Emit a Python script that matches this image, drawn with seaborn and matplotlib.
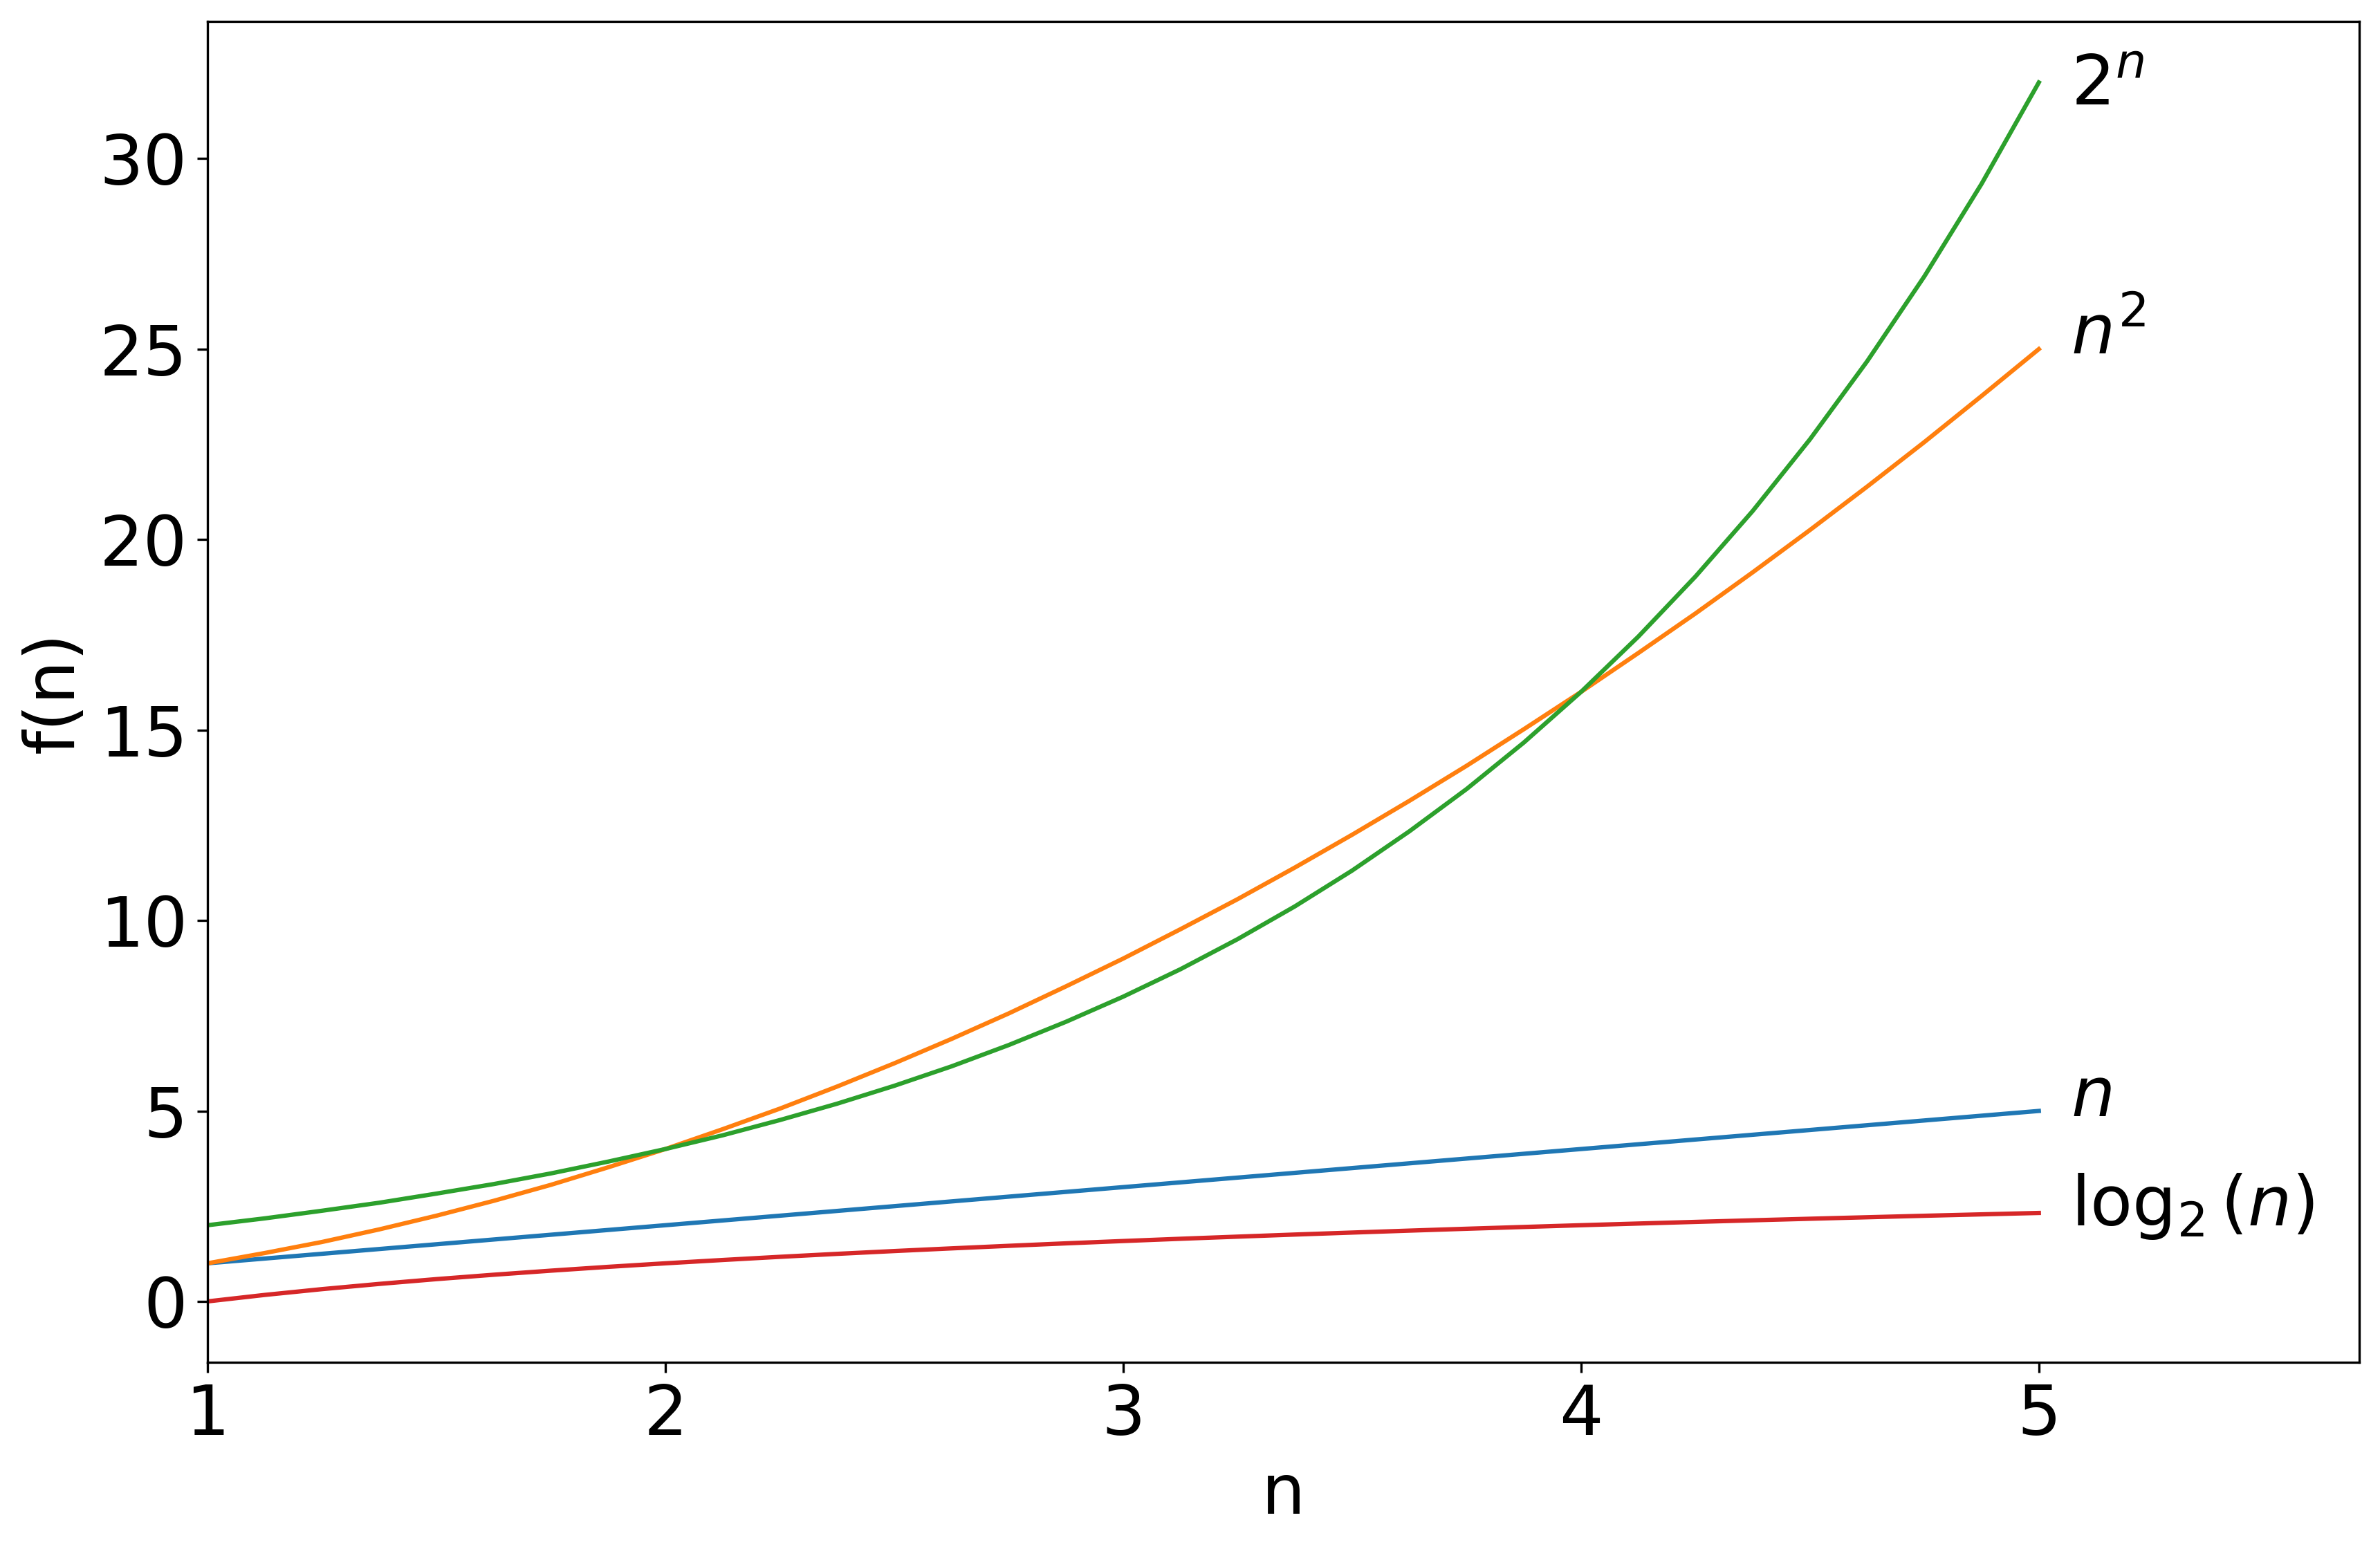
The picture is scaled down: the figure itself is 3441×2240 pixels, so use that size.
import pandas as pd
import matplotlib.pyplot as plt
import seaborn as sns

# 取样点与各函数取值
n_vals = [1, 1.125, 1.25, 1.375, 1.5, 1.625, 1.75, 1.875, 2, 2.125, 2.25, 2.375, 2.5,
          2.625, 2.75, 2.875, 3, 3.125, 3.25, 3.375, 3.5, 3.625, 3.75, 3.875, 4,
          4.125, 4.25, 4.375, 4.5, 4.625, 4.75, 4.875, 5]
linear_vals = list(n_vals)
square_vals = [1, 1.27, 1.56, 1.89, 2.25, 2.64, 3.06, 3.52, 4, 4.52, 5.06, 5.64, 6.25,
               6.89, 7.56, 8.27, 9, 9.77, 10.56, 11.39, 12.25, 13.14, 14.06, 15.02, 16,
               17.02, 18.06, 19.14, 20.25, 21.39, 22.56, 23.77, 25]
exp_vals = [2, 2.18, 2.38, 2.59, 2.83, 3.08, 3.36, 3.67, 4, 4.36, 4.76, 5.19, 5.66,
            6.17, 6.73, 7.34, 8, 8.72, 9.51, 10.37, 11.31, 12.34, 13.45, 14.67, 16,
            17.45, 19.03, 20.75, 22.63, 24.68, 26.91, 29.34, 32]
log_vals = [0, 0.170, 0.322, 0.459, 0.585, 0.700, 0.807, 0.907, 1, 1.087, 1.170, 1.248, 1.322,
            1.392, 1.459, 1.524, 1.585, 1.644, 1.700, 1.755, 1.807, 1.858, 1.907, 1.954, 2,
            2.044, 2.087, 2.129, 2.170, 2.209, 2.248, 2.285, 2.322]

series_names = ['n', 'n2', '2n', 'log']
series_labels = [r'$n$', r'$n^2$', r'$2^n$', r'$\log_2(n)$']
series_colors = ['#1f77b4', '#ff7f0e', '#2ca02c', '#d62728']
# 标注基线相对曲线末端的下移量（数据单位）
label_drop = [0.13, 0.13, 0.60, 0.33]

df = pd.concat([
    pd.DataFrame({'n': n_vals, 'f': vals, 'func': name})
    for name, vals in zip(series_names, [linear_vals, square_vals, exp_vals, log_vals])
], ignore_index=True)

fig = plt.figure(figsize=(11.47, 7.4667), dpi=300)
ax = fig.add_axes([0.0872, 0.1205, 0.9041, 0.8656])

sns.lineplot(data=df, x='n', y='f', hue='func', hue_order=series_names,
             palette=series_colors, legend=False, linewidth=1.5, ax=ax)

# 曲线末端标注
for name, label, drop in zip(series_names, series_labels, label_drop):
    last = df[df['func'] == name].iloc[-1]
    ax.text(last['n'] + 0.07, last['f'] - drop, label, fontsize=24,
            va='baseline', ha='left')

ax.set_xlim(1, 5.7)
ax.set_ylim(-1.6, 33.6)
ax.set_xticks([1, 2, 3, 4, 5])
ax.set_xlabel('n', fontsize=24)
ax.set_ylabel('f(n)', fontsize=24)
ax.tick_params(labelsize=24)

plt.savefig('out.png', dpi=300)
plt.close()
